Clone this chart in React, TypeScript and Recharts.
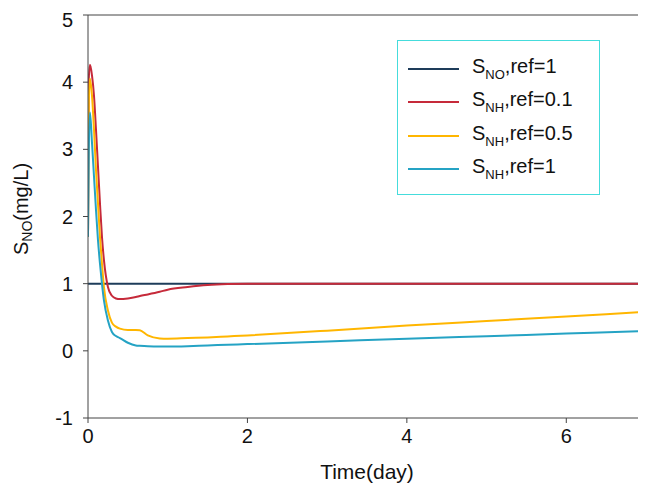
import React from "react";
import { LineChart, Line, XAxis, YAxis, ReferenceLine, Label } from "recharts";

const time = [0, 0.01, 0.025, 0.05, 0.075, 0.1, 0.125, 0.15, 0.175, 0.2, 0.25, 0.3, 0.35, 0.4, 0.5, 0.6, 0.65, 0.75, 0.9, 1.0, 1.25, 1.5, 1.75, 2, 3, 4, 5, 6, 7];
const sNoRef1 = time.map(() => 1);
const sNhRef01 = [1.7, 4.05, 4.26, 4.1, 3.8, 3.3, 2.75, 2.2, 1.7, 1.35, 0.95, 0.82, 0.78, 0.77, 0.78, 0.8, 0.815, 0.84, 0.88, 0.91, 0.95, 0.98, 0.995, 1.0, 1.0, 1.0, 1.0, 1.0, 1.0];
const sNhRef05 = [1.7, 3.7, 4.05, 3.8, 3.3, 2.7, 2.2, 1.7, 1.3, 0.95, 0.6, 0.42, 0.36, 0.33, 0.31, 0.31, 0.305, 0.23, 0.185, 0.18, 0.19, 0.2, 0.215, 0.23, 0.3, 0.376, 0.444, 0.512, 0.58];
const sNhRef1 = [1.7, 3.0, 3.55, 3.1, 2.6, 2.1, 1.65, 1.3, 1.0, 0.75, 0.45, 0.28, 0.22, 0.19, 0.12, 0.08, 0.075, 0.068, 0.065, 0.065, 0.07, 0.08, 0.09, 0.1, 0.14, 0.18, 0.218, 0.257, 0.295];

const xTicks = [0, 2, 4, 6];
const yTicks = [-1, 0, 1, 2, 3, 4, 5];

const legendItems = [
  { key: "no1", sub: "NO", rest: ",ref=1", color: "#1E3C5A" },
  { key: "nh01", sub: "NH", rest: ",ref=0.1", color: "#C62A3A" },
  { key: "nh05", sub: "NH", rest: ",ref=0.5", color: "#FFB600" },
  { key: "nh1", sub: "NH", rest: ",ref=1", color: "#25A3C4" },
];

const data = time.map((t, i) => ({
  t,
  no1: sNoRef1[i],
  nh01: sNhRef01[i],
  nh05: sNhRef05[i],
  nh1: sNhRef1[i],
}));

const FONT = "'Liberation Sans', Arial, sans-serif";

const LegendBox = () => (
  <div
    style={{
      position: "absolute",
      left: 389,
      top: 32,
      width: 203,
      height: 155,
      border: "1.5px solid #45DCDC",
      boxSizing: "border-box",
      background: "#fff",
      fontFamily: FONT,
    }}
  >
    {legendItems.map((it, i) => (
      <div
        key={it.key}
        style={{ position: "absolute", left: 0, top: 28 + i * 33.3 - 15, height: 30, width: 200 }}
      >
        <div
          style={{
            position: "absolute",
            left: 10,
            top: 14,
            width: 51,
            height: 2,
            background: it.color,
          }}
        />
        <div
          style={{
            position: "absolute",
            left: 74,
            top: 1,
            fontSize: 20,
            lineHeight: "22px",
            color: "#111",
            whiteSpace: "nowrap",
          }}
        >
          S<span style={{ fontSize: 13, position: "relative", top: 6 }}>{it.sub}</span>
          {it.rest}
        </div>
      </div>
    ))}
  </div>
);

const YLabel = () => (
  <text
    x={20}
    y={201}
    transform="rotate(-90, 20, 201)"
    textAnchor="middle"
    fontFamily={FONT}
    fontSize={20}
    fill="#111"
  >
    S<tspan fontSize={14} dy={4}>NO</tspan>
    <tspan dy={-4}>(mg/L)</tspan>
  </text>
);

const XLabel = () => (
  <text x={359} y={471} textAnchor="middle" fontFamily={FONT} fontSize={21} fill="#111">
    Time(day)
  </text>
);

export default function App() {
  return (
    <div style={{ position: "relative", width: 638, height: 482 }}>
      <LineChart
        width={638}
        height={482}
        data={data}
        margin={{ top: 7, right: 0, bottom: 0, left: 0 }}
        style={{ fontFamily: FONT }}
      >
        <XAxis
          dataKey="t"
          type="number"
          domain={[0, 7]}
          ticks={xTicks}
          allowDataOverflow
          height={72}
          tickSize={5}
          tickMargin={6}
          stroke="#444"
          tick={{ fill: "#111", fontSize: 20, fontFamily: FONT }}
        >
          <Label content={<XLabel />} />
        </XAxis>
        <YAxis
          type="number"
          domain={[-1, 5]}
          ticks={yTicks}
          width={80}
          tickSize={5}
          tickMargin={10}
          stroke="#444"
          tick={{ fill: "#111", fontSize: 20, fontFamily: FONT }}
        >
          <Label content={<YLabel />} />
        </YAxis>
        <ReferenceLine y={5} stroke="#444" strokeWidth={1} />
        <Line dataKey="no1" type="monotone" stroke="#1E3C5A" strokeWidth={2} dot={false} isAnimationActive={false} />
        <Line dataKey="nh01" type="monotone" stroke="#C62A3A" strokeWidth={2} dot={false} isAnimationActive={false} />
        <Line dataKey="nh05" type="monotone" stroke="#FFB600" strokeWidth={2} dot={false} isAnimationActive={false} />
        <Line dataKey="nh1" type="monotone" stroke="#25A3C4" strokeWidth={2} dot={false} isAnimationActive={false} />
      </LineChart>
      <LegendBox />
    </div>
  );
}
